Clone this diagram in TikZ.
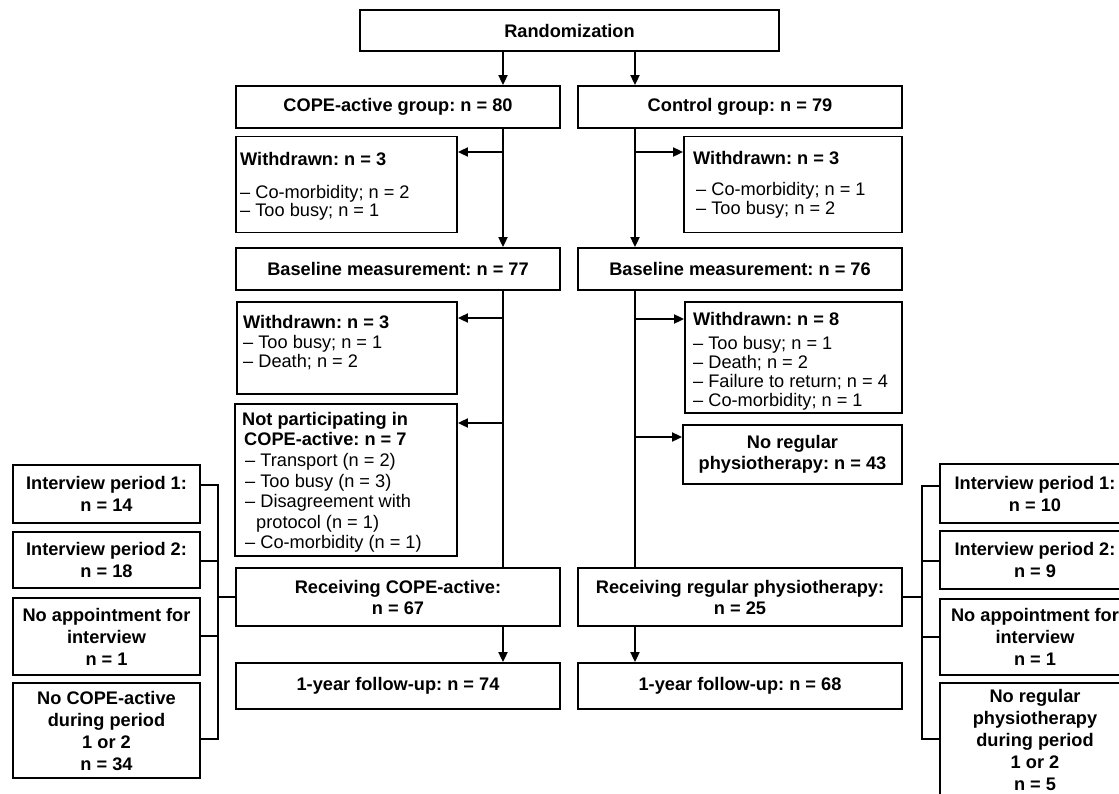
\documentclass[tikz,border=0pt]{standalone}
\usepackage{fontspec}
\setmainfont{Liberation Sans}
\usetikzlibrary{arrows.meta,calc}
\frenchspacing
\begin{document}
\begin{tikzpicture}[x=1pt,y=-1pt,
  box/.style={draw, line width=1.8pt, inner sep=0pt, align=center,
    font=\fontsize{18.2}{21}\selectfont\bfseries},
  ibox/.style={box, minimum width=187pt, font=\fontsize{18.2}{22}\selectfont\bfseries},
  rbox/.style={box, minimum width=190pt, font=\fontsize{18.2}{22}\selectfont\bfseries},
  col/.style={box, minimum width=324pt},
  side/.style={draw, line width=1.8pt, inner sep=0pt},
  txt/.style={inner sep=0pt, anchor=north west, align=left},
  conn/.style={line width=1.8pt, line join=miter},
  arr/.style={conn, -{Triangle[length=10pt,width=9pt]}}]
\clip (0,0) rectangle (1119,793);

% main column
\node[box, minimum width=419pt, minimum height=41pt] (rand) at (569.5,30.5) {Randomization};
\node[col, minimum height=42pt] (cope) at (398,107) {COPE-active group: n = 80};
\node[col, minimum height=42pt] (ctrl) at (740,107) {Control group: n = 79};
\node[col, minimum height=42pt] (bl) at (398,269) {Baseline measurement: n = 77};
\node[col, minimum height=42pt] (br) at (740,269) {Baseline measurement: n = 76};
\node[col, minimum height=58pt] (recl) at (398,597) {Receiving COPE-active:\\n = 67};
\node[col, minimum height=58pt] (recr) at (740,597) {Receiving regular physiotherapy:\\n = 25};
\node[col, minimum height=46pt] (ful) at (398,686) {1-year follow-up: n = 74};
\node[col, minimum height=46pt] (fur) at (740,686) {1-year follow-up: n = 68};

% side boxes
\node[side, minimum width=221pt, minimum height=96pt] (w1l) at (346.5,184.5) {};
\node[txt, font=\fontsize{18.2}{18}\selectfont] (w1lt) at (240,152)
  {\textbf{Withdrawn: n = 3}\\[15pt]-- Co-morbidity; n = 2\\-- Too busy; n = 1};
\node[side, minimum width=218pt, minimum height=96pt] (w1r) at (793,184.5) {};
\node[txt, font=\fontsize{18.2}{19}\selectfont] (w1rt) at (693,151)
  {\textbf{Withdrawn: n = 3}\\[12pt]\hspace{3pt}-- Co-morbidity; n = 1\\\hspace{3pt}-- Too busy; n = 2};

\node[side, minimum width=220pt, minimum height=92pt] (w2l) at (347,348) {};
\node[txt, font=\fontsize{18.2}{18.5}\selectfont] (w2lt) at (243,315)
  {\textbf{Withdrawn: n = 3}\\[2pt]-- Too busy; n = 1\\-- Death; n = 2};
\node[side, minimum width=222pt, minimum height=152pt] (npl) at (346,480) {};
\node[txt, font=\fontsize{18.2}{20.6}\selectfont] (nplt) at (242,412)
  {\textbf{Not participating in}\\\hspace{2pt}\textbf{COPE-active: n = 7}\\\hspace{3pt}-- Transport (n = 2)\\\hspace{3pt}-- Too busy (n = 3)\\\hspace{3pt}-- Disagreement with\\\hspace{14pt}protocol (n = 1)\\\hspace{3pt}-- Co-morbidity (n = 1)};

\node[side, minimum width=217pt, minimum height=111pt] (w2r) at (793.5,357.5) {};
\node[txt, font=\fontsize{18.2}{19}\selectfont] (w2rt) at (693,312)
  {\textbf{Withdrawn: n = 8}\\[5pt]-- Too busy; n = 1\\-- Death; n = 2\\-- Failure to return; n = 4\\-- Co-morbidity; n = 1};
\node[box, minimum width=219pt, minimum height=59pt] (nrr) at (792.5,454.5) {No regular\\physiotherapy: n = 43};

% interview boxes left
\node[ibox, minimum height=58pt] (ip1l) at (106.5,494) {Interview period 1:\\n = 14};
\node[ibox, minimum height=56pt] (ip2l) at (106.5,560) {Interview period 2:\\n = 18};
\node[ibox, minimum height=77pt] (nal) at (106.5,636.5) {No appointment for\\interview\\n = 1};
\node[ibox, minimum height=95pt] (ncl) at (106.5,730.5) {No COPE-active\\during period\\1 or 2\\n = 34};

% interview boxes right
\node[rbox, minimum height=59pt] (ip1r) at (1035,493.5) {Interview period 1:\\n = 10};
\node[rbox, minimum height=58pt] (ip2r) at (1035,560) {Interview period 2:\\n = 9};
\node[rbox, minimum height=76pt] (nar) at (1035,637) {No appointment for\\interview\\n = 1};
\node[rbox, minimum height=114pt] (nrx) at (1035,740) {No regular\\physiotherapy\\during period\\1 or 2\\n = 5};

% connectors
\coordinate (xl) at (503,0);
\coordinate (xr) at (635,0);
\draw[arr] (rand.south -| xl) -- (cope.north -| xl);
\draw[arr] (rand.south -| xr) -- (ctrl.north -| xr);
\draw[arr] (cope.south -| xl) -- (bl.north -| xl);
\draw[arr] (ctrl.south -| xr) -- (br.north -| xr);
\coordinate (j1l) at (503,152);
\coordinate (j1r) at (635,152);
\draw[arr] (j1l) -- (j1l -| w1l.east);
\draw[arr] (j1r) -- (j1r -| w1r.west);
\draw[conn] (bl.south -| xl) -- (recl.north -| xl);
\draw[conn] (br.south -| xr) -- (recr.north -| xr);
\coordinate (j2l) at (503,318);
\coordinate (j3l) at (503,423);
\coordinate (j2r) at (635,319);
\coordinate (j3r) at (635,437);
\draw[arr] (j2l) -- (j2l -| w2l.east);
\draw[arr] (j3l) -- (j3l -| npl.east);
\draw[arr] (j2r) -- (j2r -| w2r.west);
\draw[arr] (j3r) -- (j3r -| nrr.west);
\draw[arr] (recl.south -| xl) -- (ful.north -| xl);
\draw[arr] (recr.south -| xr) -- (fur.north -| xr);

% brackets left
\coordinate (s1l) at (218,485);
\coordinate (s2l) at (218,561);
\coordinate (s3l) at (218,636);
\coordinate (s4l) at (218,739);
\coordinate (sml) at (218,597);
\draw[conn] (s1l -| ip1l.east) -- (s1l) -- (s4l) -- (s4l -| ncl.east);
\draw[conn] (s2l -| ip2l.east) -- (s2l);
\draw[conn] (s3l -| nal.east) -- (s3l);
\draw[conn] (sml) -- (sml -| recl.west);

% brackets right
\coordinate (s1r) at (922,486);
\coordinate (s2r) at (922,561);
\coordinate (s3r) at (922,637);
\coordinate (s4r) at (922,739);
\coordinate (smr) at (922,597);
\draw[conn] (s1r -| ip1r.west) -- (s1r) -- (s4r) -- (s4r -| nrx.west);
\draw[conn] (s2r -| ip2r.west) -- (s2r);
\draw[conn] (s3r -| nar.west) -- (s3r);
\draw[conn] (smr) -- (smr -| recr.east);
\end{tikzpicture}
\end{document}
